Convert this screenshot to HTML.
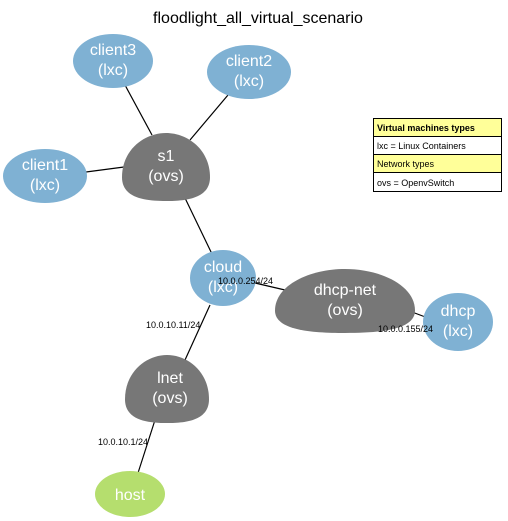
<!DOCTYPE html>
<html><head><style>body{margin:0;background:#fff}svg{display:block}text{font-family:"Liberation Sans",sans-serif}</style></head><body>
<svg width="508" height="521" viewBox="0 0 508 521">
<rect width="508" height="521" fill="#fff"/>
<text x="258" y="23" font-size="16" text-anchor="middle">floodlight_all_virtual_scenario</text>
<g stroke="#000" stroke-width="1.2">
<line x1="125" y1="85" x2="152" y2="135"/>
<line x1="228" y1="95" x2="190" y2="140"/>
<line x1="86" y1="172" x2="124" y2="167"/>
<line x1="185" y1="198" x2="212" y2="254"/>
<line x1="255" y1="283" x2="285" y2="290"/>
<line x1="412" y1="312" x2="428" y2="318"/>
<line x1="210" y1="305" x2="185" y2="360"/>
<line x1="155" y1="420" x2="138" y2="473"/>
</g>
<defs><path id="b" d="M-1,0.3 C-1,-0.5 -0.5,-1 0,-1 C0.5,-1 1,-0.5 1,0.3 C1,0.9 0.5,1 0,1 C-0.5,1 -1,0.9 -1,0.3Z"/></defs>
<g fill="#777777">
<use href="#b" transform="translate(166,167) scale(44,34)"/>
<use href="#b" transform="translate(345,301) scale(70,32)"/>
<use href="#b" transform="translate(167,389) scale(42,34)"/>
</g>
<g fill="#7fb1d3">
<ellipse cx="113" cy="61" rx="40" ry="27"/>
<ellipse cx="249" cy="72" rx="42" ry="27"/>
<ellipse cx="45" cy="176" rx="42" ry="27"/>
<ellipse cx="223" cy="278" rx="33" ry="28"/>
<ellipse cx="458" cy="322" rx="35" ry="29"/>
</g>
<ellipse cx="130" cy="494" rx="35" ry="23" fill="#b5de6e"/>
<g fill="#fff" font-size="16" text-anchor="middle">
<text x="113" y="55">client3</text><text x="113" y="75">(lxc)</text>
<text x="249" y="66">client2</text><text x="249" y="86">(lxc)</text>
<text x="45" y="170">client1</text><text x="45" y="190">(lxc)</text>
<text x="166" y="161">s1</text><text x="166" y="181">(ovs)</text>
<text x="223" y="272">cloud</text><text x="223" y="292">(lxc)</text>
<text x="345" y="295">dhcp-net</text><text x="345" y="315">(ovs)</text>
<text x="458" y="316">dhcp</text><text x="458" y="336">(lxc)</text>
<text x="170" y="383">lnet</text><text x="170" y="403">(ovs)</text>
<text x="130" y="500">host</text>
</g>
<g font-size="9" fill="#000">
<text x="218" y="284">10.0.0.254/24</text>
<text x="146" y="328">10.0.10.11/24</text>
<text x="378" y="332">10.0.0.155/24</text>
<text x="98" y="445">10.0.10.1/24</text>
</g>
<g stroke="#000" stroke-width="1" font-size="9">
<rect x="373.5" y="118.5" width="128" height="18" fill="#ffff99"/>
<rect x="373.5" y="136.5" width="128" height="18" fill="#fff"/>
<rect x="373.5" y="154.5" width="128" height="18" fill="#ffff99"/>
<rect x="373.5" y="172.5" width="128" height="19" fill="#fff"/>
</g>
<g font-size="9" fill="#000">
<text x="377" y="131" font-weight="bold">Virtual machines types</text>
<text x="377" y="149">lxc = Linux Containers</text>
<text x="377" y="167">Network types</text>
<text x="377" y="186">ovs = OpenvSwitch</text>
</g>
</svg>
</body></html>
